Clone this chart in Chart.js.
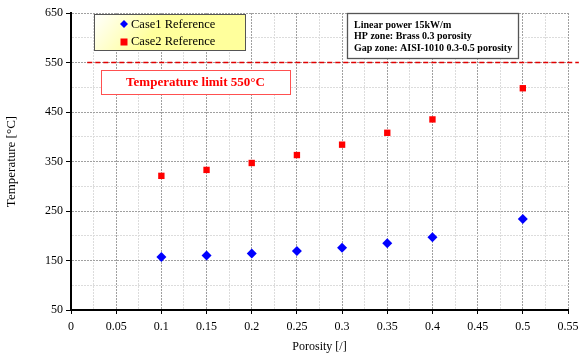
<!DOCTYPE html>
<html><head><meta charset="utf-8">
<script src="https://cdn.jsdelivr.net/npm/chart.js@4"></script>
<style>html,body{margin:0;padding:0;background:#fff}#w{width:579px;height:358px}</style>
</head><body><div id="w"><canvas id="c"></canvas></div>
<script>
const porosity = [0.1, 0.15, 0.2, 0.25, 0.3, 0.35, 0.4, 0.5];
const case1 = [157, 160, 164, 169, 176, 185, 197, 234];
const case2 = [321, 333, 347, 363, 384, 408, 435, 498];
const limitValue = 550;
const limitRange = [0.018, 0.562];
const seriesNames = ['Case1 Reference', 'Case2 Reference'];
const limitText = 'Temperature limit 550°C';
const infoLines = ['Linear power 15kW/m', 'HP zone: Brass 0.3 porosity', 'Gap zone: AISI-1010 0.3-0.5 porosity'];
const xTitle = 'Porosity [/]';
const yTitle = 'Temperature [°C]';

const F = '"Liberation Serif", "Times New Roman", serif';

const boxes = {
  id: 'boxes',
  afterDraw(chart) {
    const ctx = chart.ctx, a = chart.chartArea;
    const L = a.left, T = a.top;
    ctx.save();
    // legend box
    let x = L + 23, y = T + 1, w = 151, h = 36;
    const g = ctx.createLinearGradient(x, y, x + w * 0.3, y + h);
    g.addColorStop(0, '#ffffff');
    g.addColorStop(1, '#ffff9c');
    ctx.fillStyle = g; ctx.fillRect(x, y, w, h);
    ctx.strokeStyle = '#555'; ctx.lineWidth = 1; ctx.strokeRect(x + 0.5, y + 0.5, w, h);
    ctx.font = '12.5px ' + F; ctx.fillStyle = '#000'; ctx.textBaseline = 'middle';
    const mx = x + 30;
    ctx.fillStyle = '#0000ff';
    ctx.beginPath(); ctx.moveTo(mx, y + 6); ctx.lineTo(mx + 4, y + 10); ctx.lineTo(mx, y + 14); ctx.lineTo(mx - 4, y + 10); ctx.closePath(); ctx.fill();
    ctx.fillStyle = '#ff0000'; ctx.fillRect(mx - 3.5, y + 24.5, 7, 7);
    ctx.fillStyle = '#000';
    ctx.fillText(seriesNames[0], x + 37, y + 10.5);
    ctx.fillText(seriesNames[1], x + 37, y + 28);
    // limit box
    x = L + 30; y = T + 57; w = 189; h = 24;
    ctx.fillStyle = '#fff'; ctx.fillRect(x, y, w, h);
    ctx.strokeStyle = '#ff5050'; ctx.strokeRect(x + 0.5, y + 0.5, w, h);
    ctx.fillStyle = '#ff0000'; ctx.font = 'bold 13px ' + F; ctx.textAlign = 'center';
    ctx.fillText(limitText, x + w / 2, y + h / 2 + 1);
    // info box
    x = L + 276; y = T + 0; w = 171; h = 45;
    ctx.fillStyle = '#fff'; ctx.fillRect(x, y, w, h);
    ctx.strokeStyle = '#555'; ctx.lineWidth = 1.3; ctx.strokeRect(x + 0.5, y + 0.5, w, h);
    ctx.fillStyle = '#000'; ctx.font = 'bold 10px ' + F; ctx.textAlign = 'left';
    infoLines.forEach((s, i) => ctx.fillText(s, x + 7, y + 12 + i * 11.5));
    ctx.restore();
  }
};

new Chart(document.getElementById('c'), {
  type: 'scatter',
  data: {
    datasets: [
      { label: seriesNames[0], data: porosity.map((p, i) => ({x: p, y: case1[i]})),
        pointStyle: 'rectRot', pointRadius: 5, pointHoverRadius: 5, backgroundColor: '#0000ff', borderColor: '#0000ff', borderWidth: 0 },
      { label: seriesNames[1], data: porosity.map((p, i) => ({x: p, y: case2[i]})),
        pointStyle: 'rect', pointRadius: 4.5, pointHoverRadius: 4.5, backgroundColor: '#ff0000', borderColor: '#ff0000', borderWidth: 0 },
      { label: 'limit', data: limitRange.map(v => ({x: v, y: limitValue})), showLine: true, pointRadius: 0,
        borderColor: '#e00000', borderWidth: 1.3, borderDash: [5, 3], clip: false }
    ]
  },
  options: {
    responsive: true, maintainAspectRatio: false, animation: false,
    layout: { padding: { top: 13, right: 11, left: 4, bottom: 0 } },
    plugins: { legend: { display: false }, tooltip: { enabled: false } },
    scales: {
      x: {
        type: 'linear', min: 0, max: 0.55,
        afterFit(s) { s.height = 48; s.paddingLeft = 0; s.paddingRight = 0; },
        ticks: { stepSize: 0.025, autoSkip: false, maxRotation: 0, padding: 6, color: '#000',
          font: { family: F, size: 12 },
          callback: v => (Math.round(v * 1000) % 50 === 0) ? String(Math.round(v * 100) / 100) : '' },
        grid: { color: c => (Math.round(c.tick.value * 1000) % 50 === 0) ? '#a0a0a0' : '#dcdcdc',
          tickColor: c => (Math.round(c.tick.value * 1000) % 50 === 0) ? '#000' : 'rgba(0,0,0,0)', tickLength: 4, lineWidth: 1 },
        border: { color: '#000', width: 2, dash: [2, 1] },
        title: { display: true, text: xTitle, color: '#000', font: { family: F, size: 12 }, padding: { top: 5 } }
      },
      y: {
        min: 50, max: 650,
        afterFit(s) { s.width = 67; },
        ticks: { stepSize: 50, autoSkip: false, padding: 3, color: '#000', font: { family: F, size: 12 },
          callback: v => (v % 100 === 50) ? String(v) : '' },
        grid: { color: c => (c.tick.value % 100 === 50) ? '#a0a0a0' : '#dcdcdc',
          tickColor: c => (c.tick.value % 100 === 50) ? '#000' : 'rgba(0,0,0,0)', tickLength: 5, lineWidth: 1 },
        border: { color: '#000', width: 2, dash: [2, 1] },
        title: { display: true, text: yTitle, color: '#000', font: { family: F, size: 13 }, padding: { top: 0, bottom: 0 } }
      }
    }
  },
  plugins: [boxes]
});
</script></body></html>
